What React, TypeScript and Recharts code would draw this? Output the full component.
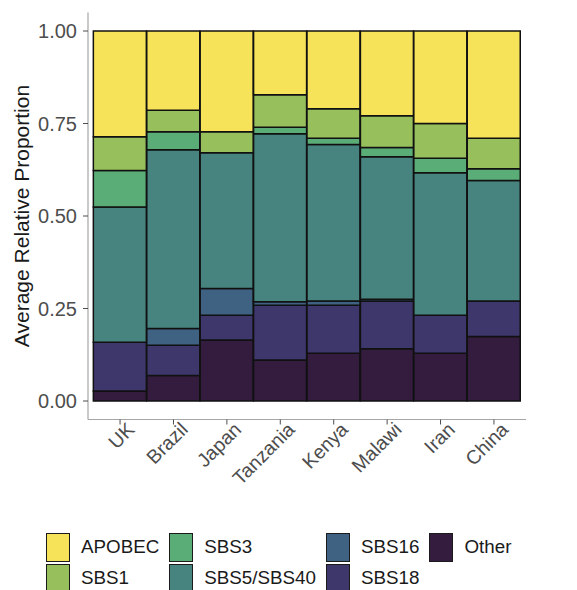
import React from "react";
import { BarChart, Bar, XAxis, YAxis } from "recharts";

const COUNTRIES = ["UK", "Brazil", "Japan", "Tanzania", "Kenya", "Malawi", "Iran", "China"];

// stacked bottom -> top
const OTHER = [0.027, 0.069, 0.165, 0.111, 0.129, 0.141, 0.129, 0.174];
const SBS18 = [0.132, 0.082, 0.067, 0.148, 0.13, 0.129, 0.103, 0.096];
const SBS16 = [0, 0.045, 0.072, 0.009, 0.011, 0.005, 0, 0];
const SBS5_40 = [0.365, 0.483, 0.367, 0.454, 0.423, 0.385, 0.385, 0.326];
const SBS3 = [0.099, 0.049, 0, 0.018, 0.017, 0.025, 0.039, 0.032];
const SBS1 = [0.091, 0.058, 0.057, 0.088, 0.08, 0.086, 0.094, 0.082];
const APOBEC = [0.286, 0.214, 0.272, 0.172, 0.21, 0.229, 0.25, 0.29];

const Y_TICKS = [0, 0.25, 0.5, 0.75, 1];

const SERIES = [
  { key: "Other", values: OTHER, color: "#331c3e" },
  { key: "SBS18", values: SBS18, color: "#3e376c" },
  { key: "SBS16", values: SBS16, color: "#3f6282" },
  { key: "SBS5/SBS40", values: SBS5_40, color: "#47847f" },
  { key: "SBS3", values: SBS3, color: "#5bad78" },
  { key: "SBS1", values: SBS1, color: "#97bf5c" },
  { key: "APOBEC", values: APOBEC, color: "#f6e35a" },
];

// legend order as in the figure (column-major, 2 rows)
const LEGEND_ORDER = ["APOBEC", "SBS1", "SBS3", "SBS5/SBS40", "SBS16", "SBS18", "Other"];

const data = COUNTRIES.map((c, i) => {
  const row: Record<string, any> = { country: c };
  SERIES.forEach((s) => (row[s.key] = s.values[i]));
  return row;
});

const FONT = '"Liberation Sans", Arial, Helvetica, sans-serif';
const GRID = "#a6a6a6";
const TICK = "#4d4d4d";

const XTick = ({ x, y, payload }: any) => (
  <g transform={`translate(${x},${y})`}>
    <text
      textAnchor="end"
      transform="rotate(-45)"
      dy="0.72em"
      dx={8}
      fontSize={19.5}
      fontFamily={FONT}
      fill={TICK}
    >
      {payload.value}
    </text>
  </g>
);

const YTitle = ({ viewBox }: any) => {
  const cy = viewBox.y + viewBox.height / 2;
  return (
    <text
      x={21}
      y={cy}
      transform={`rotate(-90 21 ${cy})`}
      textAnchor="middle"
      dominantBaseline="central"
      fontSize={21}
      fontFamily={FONT}
      fill="#1a1a1a"
    >
      Average Relative Proportion
    </text>
  );
};

function LegendBox() {
  const cols: string[][] = [];
  for (let i = 0; i < LEGEND_ORDER.length; i += 2) cols.push(LEGEND_ORDER.slice(i, i + 2));
  return (
    <div
      style={{
        position: "absolute",
        left: 46,
        top: 532,
        display: "flex",
        gap: 10,
        fontFamily: FONT,
        fontSize: 18.8,
        color: "#1a1a1a",
      }}
    >
      {cols.map((col, ci) => (
        <div key={ci} style={{ display: "flex", flexDirection: "column", gap: 1 }}>
          {col.map((name) => {
            const s = SERIES.find((d) => d.key === name)!;
            return (
              <div key={name} style={{ display: "flex", alignItems: "center", height: 30 }}>
                <div
                  style={{
                    width: 22,
                    height: 27,
                    background: s.color,
                    border: "1.5px solid #1a1a1a",
                    marginRight: 11,
                  }}
                />
                <span>{name}</span>
              </div>
            );
          })}
        </div>
      ))}
    </div>
  );
}

export default function App() {
  return (
    <div style={{ position: "absolute", left: 0, top: 0, width: 577, height: 590, background: "#fff", overflow: "hidden" }}>
      <BarChart
        width={577}
        height={590}
        data={data}
        margin={{ top: 12.5, right: 51, bottom: 0, left: 0 }}
        barCategoryGap={0}
        barGap={0}
      >
        <XAxis
          dataKey="country"
          height={170.5}
          padding={{ left: 5.35, right: 5.35 }}
          tick={<XTick />}
          tickSize={5}
          tickMargin={2}
          interval={0}
          axisLine={{ stroke: GRID, strokeWidth: 1.2 }}
          tickLine={{ stroke: TICK, strokeWidth: 1 }}
        />
        <XAxis
          xAxisId="top"
          orientation="top"
          dataKey="country"
          height={0}
          tick={false}
          tickLine={false}
          axisLine={{ stroke: GRID, strokeWidth: 1.2 }}
        />
        <YAxis
          type="number"
          domain={[-0.05, 1.05]}
          ticks={Y_TICKS}
          allowDataOverflow
          width={88}
          tickSize={5}
          tickMargin={6}
          tickFormatter={(v: number) => v.toFixed(2)}
          tick={{ fontSize: 20, fontFamily: FONT, fill: TICK }}
          axisLine={{ stroke: GRID, strokeWidth: 1.2 }}
          tickLine={{ stroke: TICK, strokeWidth: 1 }}
          label={<YTitle />}
        />
        <YAxis
          yAxisId="right"
          orientation="right"
          type="number"
          domain={[-0.05, 1.05]}
          width={0}
          tick={false}
          tickLine={false}
          axisLine={{ stroke: GRID, strokeWidth: 1.2 }}
        />
        {SERIES.map((s) => (
          <Bar
            key={s.key}
            dataKey={s.key}
            stackId="a"
            fill={s.color}
            stroke="#111"
            strokeWidth={1.5}
            isAnimationActive={false}
          />
        ))}
      </BarChart>
      <LegendBox />
    </div>
  );
}
